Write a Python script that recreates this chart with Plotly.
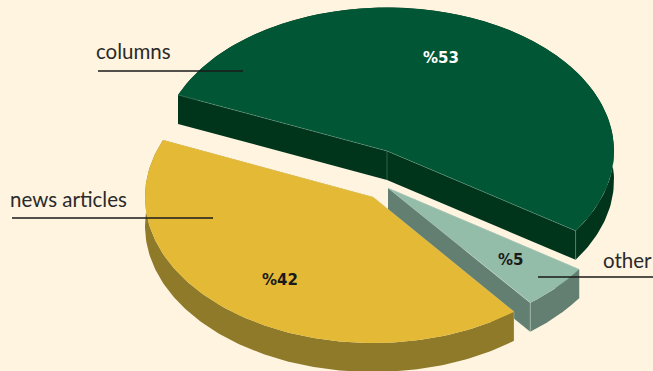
import numpy as np
import plotly.graph_objects as go

# Article-type shares, drawn clockwise from the starting angle
categories = ["columns", "other", "news articles"]
values = [53, 5, 42]

W, H = 653, 371
BG = "#fef4e0"
START_DEG = 157.0
DEPTH = 29.0

# Per-slice styling, apex of each exploded slice and its ellipse radii
centres = {"columns": (387, 151), "other": (388, 188), "news articles": (373, 197)}
radii = {"columns": (227, 143.5), "other": (230, 146), "news articles": (228, 146)}
top_colour = {"columns": "#015735", "other": "#93bda8", "news articles": "#e3b936"}
side_colour = {"columns": "#00351b", "other": "#637f72", "news articles": "#8f7a2a"}
edge_colour = {"columns": "rgba(150,190,170,0.4)", "other": "rgba(220,235,225,0.5)",
               "news articles": "rgba(255,240,190,0.35)"}
text_colour = {"columns": "#ffffff", "other": "#1a1a1a", "news articles": "#1a1a1a"}
value_pos = {"columns": (441, 58), "other": (510, 259.5), "news articles": (280, 280)}
name_pos = {"columns": (94, 51), "other": (601, 259.5), "news articles": (8, 199)}
leaders = {"columns": (98, 243, 71), "other": (538, 653, 277), "news articles": (12, 213, 218)}
# Which end of each rim shows a vertical crease at the front of the pie
front_end = {"columns": -1, "other": -1, "news articles": 0}

fig = go.Figure()


def polygon(xs, ys, colour):
    fig.add_trace(go.Scatter(x=xs, y=ys, mode="lines", fill="toself", fillcolor=colour,
                             line=dict(width=0), hoverinfo="skip", showlegend=False))


def edge(xs, ys, colour):
    fig.add_trace(go.Scatter(x=xs, y=ys, mode="lines", line=dict(color=colour, width=0.8),
                             hoverinfo="skip", showlegend=False))


def draw_slice(name, t0, t1):
    """Extruded elliptical wedge running clockwise from angle t0 to t1 (degrees)."""
    cx, cy = centres[name]
    rx, ry = radii[name]
    t = np.radians(np.linspace(t0, t1, 160))
    ax = cx + rx * np.cos(t)
    ay = cy - ry * np.sin(t)

    # Walls first: outer rim, then the two radial faces
    side = side_colour[name]
    polygon(np.r_[ax, ax[::-1], ax[0]], np.r_[ay, ay[::-1] + DEPTH, ay[0]], side)
    for px, py in ((ax[0], ay[0]), (ax[-1], ay[-1])):
        polygon([cx, px, px, cx, cx], [cy, py, py + DEPTH, cy + DEPTH, cy], side)

    # Top face
    polygon(np.r_[cx, ax, cx], np.r_[cy, ay, cy], top_colour[name])

    # Thin highlights on the creases
    edge([ax[0], cx, ax[-1]], [ay[0], cy, ay[-1]], edge_colour[name])
    i = front_end[name]
    edge([ax[i], ax[i]], [ay[i], ay[i] + DEPTH], edge_colour[name])
    if name == "columns":
        edge([cx, cx], [cy, cy + DEPTH], edge_colour[name])


# Sweep angles come straight from the shares
sweeps = {c: 360.0 * v / sum(values) for c, v in zip(categories, values)}
angles = {}
cursor = START_DEG
for c in categories:
    angles[c] = (cursor, cursor - sweeps[c])
    cursor -= sweeps[c]

# Painter's order: back slice, then the small slice, then the large front slice
for c in ["columns", "other", "news articles"]:
    draw_slice(c, *angles[c])

annotations = []
shapes = []
for c, v in zip(categories, values):
    x0, x1, y = leaders[c]
    shapes.append(dict(type="line", x0=x0, x1=x1, y0=y, y1=y, xref="x", yref="y",
                       line=dict(color="#1a1a1a", width=1.4)))
    nx, ny = name_pos[c]
    annotations.append(dict(x=nx, y=ny, xref="x", yref="y", text=c, showarrow=False,
                            xanchor="left", yanchor="middle",
                            font=dict(family="Lato", size=20.5, color="#2a2a2a")))
    vx, vy = value_pos[c]
    annotations.append(dict(x=vx, y=vy, xref="x", yref="y", text=f"<b>%{v}</b>", showarrow=False,
                            xanchor="center", yanchor="middle",
                            font=dict(family="DejaVu Sans", size=15, color=text_colour[c])))

fig.update_layout(
    width=W, height=H, margin=dict(l=0, r=0, t=0, b=0),
    paper_bgcolor=BG, plot_bgcolor=BG, showlegend=False,
    xaxis=dict(range=[0, W], visible=False, fixedrange=True),
    yaxis=dict(range=[H, 0], visible=False, fixedrange=True),
    annotations=annotations, shapes=shapes,
)
fig.write_html("out.html", config={"displayModeBar": False})
